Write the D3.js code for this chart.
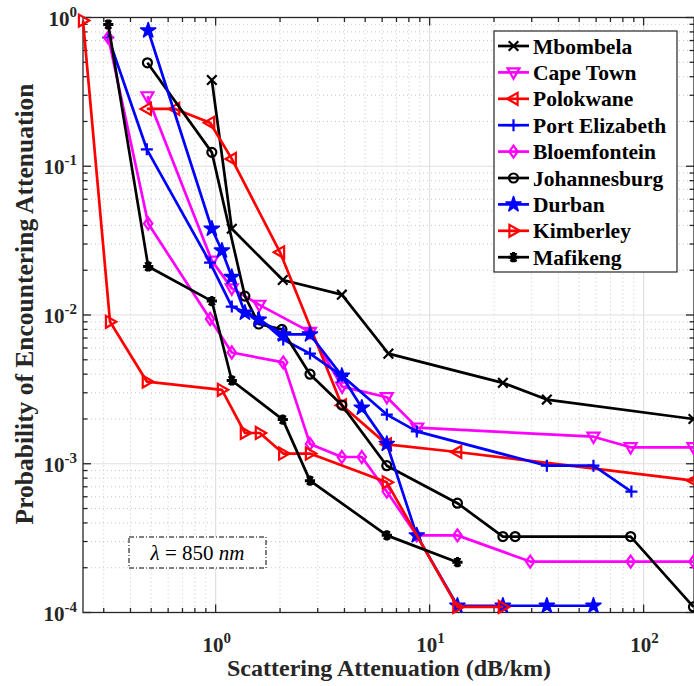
<!DOCTYPE html>
<html>
<head>
<meta charset="utf-8">
<script src="https://cdn.jsdelivr.net/npm/d3@7"></script>
<style>
  html, body { margin: 0; padding: 0; background: #fff; }
  svg { display: block; }
  text { font-family: "Liberation Serif", "Times New Roman", serif; }
</style>
</head>
<body>
<svg id="chart" width="694" height="686"></svg>
<script>
// Scattering attenuation (dB/km) vs probability, one array of [x, p] pairs per city
const mbombela = [[0.96,0.38],[1.19,0.038],[2.06,0.0172],[3.89,0.0137],[6.42,0.0055],[22,0.0035],[35.3,0.0027],[171,0.002]];
const capeTown = [[0.48,0.295],[0.96,0.0232],[1.19,0.0151],[1.6,0.0117],[2.76,0.0077],[3.9,0.0033],[6.31,0.0028],[8.75,0.00175],[58.3,0.00152],[87,0.00129],[171,0.00129]];
const polokwane = [[0.477,0.243],[0.647,0.243],[0.942,0.196],[1.19,0.112],[2.0,0.0264],[3.89,0.00247],[6.31,0.00135],[13.45,0.0012],[171,0.00077]];
const portElizabeth = [[0.315,0.734],[0.477,0.13],[0.942,0.0225],[1.19,0.0114],[1.58,0.0096],[2.07,0.00685],[2.76,0.0055],[3.9,0.0039],[6.31,0.00214],[8.71,0.00165],[35.3,0.00097],[58.3,0.00097],[87.7,0.00065]];
const bloemfontein = [[0.315,0.734],[0.484,0.0412],[0.942,0.0094],[1.19,0.0056],[2.07,0.0048],[2.76,0.00136],[3.89,0.00111],[4.82,0.00111],[6.31,0.00065],[8.71,0.00033],[13.49,0.00033],[29.5,0.00022],[87,0.00022],[171,0.00022]];
const johannesburg = [[0.48,0.496],[0.96,0.124],[1.37,0.0134],[1.59,0.0087],[2.04,0.008],[2.76,0.004],[3.89,0.00248],[6.31,0.00097],[13.49,0.000543],[22,0.000324],[25.1,0.000324],[87,0.000324],[171,0.000109]];
const durban = [[0.484,0.818],[0.96,0.038],[1.07,0.0271],[1.19,0.018],[1.37,0.01035],[1.59,0.0093],[2.07,0.0074],[2.76,0.0074],[3.89,0.0039],[4.82,0.00238],[6.31,0.00136],[8.71,0.00033],[13.49,0.000111],[22,0.000111],[35.3,0.000111],[58.3,0.000111]];
const kimberley = [[0.24,0.954],[0.321,0.009],[0.477,0.00357],[1.07,0.00314],[1.37,0.00161],[1.61,0.00161],[2.07,0.00117],[2.76,0.00117],[6.31,0.00075],[13.49,0.000109],[22,0.000109]];
const mafikeng = [[0.315,0.897],[0.484,0.0212],[0.96,0.0124],[1.19,0.00363],[2.06,0.00198],[2.76,0.00077],[6.31,0.00033],[13.49,0.000218]];

const cityNames = ["Mbombela","Cape Town","Polokwane","Port Elizabeth","Bloemfontein","Johannesburg","Durban","Kimberley","Mafikeng"];
const cityData = [mbombela, capeTown, polokwane, portElizabeth, bloemfontein, johannesburg, durban, kimberley, mafikeng];
const cityColors = ["#000000","#ff00ff","#ff0000","#0000ff","#ff00ff","#000000","#0000ff","#ff0000","#000000"];
const cityMarkers = ["x","tdown","tleft","plus","diamond","circle","star","tright","asterisk"];

const xTickExps = [0, 1, 2];
const yTickExps = [0, -1, -2, -3, -4];
const xLabel = "Scattering Attenuation (dB/km)";
const yLabel = "Probability of Encountering Attenuation";

const svg = d3.select("#chart");
const L = 83, R = 694, T = 17.5, B = 612.5;
const x = d3.scaleLog().domain([0.24, 172]).range([L, R]);
const y = d3.scaleLog().domain([1e-4, 1]).range([B, T]);

// minor/major grid
const xMinor = [], yMinor = [];
for (let e = -1; e <= 2; e++) for (let m = 2; m <= 9; m++) {
  const v = m * Math.pow(10, e);
  if (v > 0.24 && v < 172) xMinor.push(v);
}
for (let e = -4; e <= -1; e++) for (let m = 2; m <= 9; m++) yMinor.push(m * Math.pow(10, e));
const xMajor = xTickExps.map(e => Math.pow(10, e));
const yMajor = yTickExps.map(e => Math.pow(10, e));

const grid = svg.append("g");
grid.selectAll(".xm").data(xMinor).join("line")
  .attr("x1", d => x(d)).attr("x2", d => x(d)).attr("y1", T).attr("y2", B)
  .attr("stroke", "#c8c8c8").attr("stroke-width", 1).attr("stroke-dasharray", "1,3");
grid.selectAll(".ym").data(yMinor).join("line")
  .attr("y1", d => y(d)).attr("y2", d => y(d)).attr("x1", L).attr("x2", R)
  .attr("stroke", "#c8c8c8").attr("stroke-width", 1).attr("stroke-dasharray", "1,3");
grid.selectAll(".xM").data(xMajor).join("line")
  .attr("x1", d => x(d)).attr("x2", d => x(d)).attr("y1", T).attr("y2", B)
  .attr("stroke", "#e0e0e0").attr("stroke-width", 1.2);
grid.selectAll(".yM").data(yMajor).join("line")
  .attr("y1", d => y(d)).attr("y2", d => y(d)).attr("x1", L).attr("x2", R)
  .attr("stroke", "#e0e0e0").attr("stroke-width", 1.2);

// axes box with inward ticks on all four sides
const axisColor = "#262626";
const ax = svg.append("g").attr("stroke", axisColor).attr("stroke-width", 1.3);
ax.append("rect").attr("x", L).attr("y", T).attr("width", R - L).attr("height", B - T).attr("fill", "none");
const majLen = 8, minLen = 4.5;
xMinor.forEach(v => {
  ax.append("line").attr("x1", x(v)).attr("x2", x(v)).attr("y1", B).attr("y2", B - minLen);
  ax.append("line").attr("x1", x(v)).attr("x2", x(v)).attr("y1", T).attr("y2", T + minLen);
});
xMajor.forEach(v => {
  ax.append("line").attr("x1", x(v)).attr("x2", x(v)).attr("y1", B).attr("y2", B - majLen);
  ax.append("line").attr("x1", x(v)).attr("x2", x(v)).attr("y1", T).attr("y2", T + majLen);
});
yMinor.forEach(v => {
  ax.append("line").attr("y1", y(v)).attr("y2", y(v)).attr("x1", L).attr("x2", L + minLen);
  ax.append("line").attr("y1", y(v)).attr("y2", y(v)).attr("x1", R).attr("x2", R - minLen);
});
yMajor.forEach(v => {
  ax.append("line").attr("y1", y(v)).attr("y2", y(v)).attr("x1", L).attr("x2", L + majLen);
  ax.append("line").attr("y1", y(v)).attr("y2", y(v)).attr("x1", R).attr("x2", R - majLen);
});

// tick labels as 10^n
function powLabel(g, px, py, exp, anchor) {
  const t = g.append("text").attr("x", px).attr("y", py).attr("text-anchor", anchor)
    .attr("font-weight", "bold").attr("font-size", 21).attr("fill", "#262626");
  t.append("tspan").text("10");
  t.append("tspan").attr("dy", -9).attr("font-size", 15).text(exp < 0 ? "-" + (-exp) : String(exp));
}
const labels = svg.append("g");
xTickExps.forEach(e => powLabel(labels, x(Math.pow(10, e)) + 1, 652, e, "middle"));
yTickExps.forEach(e => powLabel(labels, 77, y(Math.pow(10, e)) + 8, e, "end"));

labels.append("text").attr("x", 389).attr("y", 676).attr("text-anchor", "middle")
  .attr("font-weight", "bold").attr("font-size", 24).attr("fill", "#262626").text(xLabel);
labels.append("text").attr("transform", "translate(33,304) rotate(-90)").attr("text-anchor", "middle")
  .attr("font-weight", "bold").attr("font-size", 25.5).attr("fill", "#262626").text(yLabel);

// marker drawing
function drawMarker(g, kind, cx, cy, color) {
  const sw = 2.2;
  const s = 6;
  const p = g.append("g").attr("transform", `translate(${cx},${cy})`);
  if (kind === "x") {
    p.append("path").attr("d", `M${-s*0.8},${-s*0.8}L${s*0.8},${s*0.8}M${-s*0.8},${s*0.8}L${s*0.8},${-s*0.8}`)
      .attr("stroke", color).attr("stroke-width", sw).attr("fill", "none");
  } else if (kind === "plus") {
    p.append("path").attr("d", `M${-s},0L${s},0M0,${-s}L0,${s}`)
      .attr("stroke", color).attr("stroke-width", sw).attr("fill", "none");
  } else if (kind === "asterisk") {
    const a = s * 0.85;
    p.append("path").attr("d", `M${-a},0L${a},0M${-a*0.5},${-a*0.87}L${a*0.5},${a*0.87}M${-a*0.5},${a*0.87}L${a*0.5},${-a*0.87}M0,${-a}L0,${a}`)
      .attr("stroke", color).attr("stroke-width", sw + 0.8).attr("fill", "none");
  } else if (kind === "circle") {
    p.append("circle").attr("r", s * 0.75).attr("stroke", color).attr("stroke-width", sw).attr("fill", "none");
  } else if (kind === "diamond") {
    p.append("path").attr("d", `M0,${-s}L${s*0.7},0L0,${s}L${-s*0.7},0Z`)
      .attr("stroke", color).attr("stroke-width", sw).attr("fill", "none");
  } else if (kind === "star") {
    p.append("path").attr("d", d3.symbol(d3.symbolStar, 70)())
      .attr("stroke", color).attr("stroke-width", 1.6).attr("stroke-linejoin", "round").attr("fill", color);
  } else {
    const rot = { tdown: 180, tleft: -90, tright: 90 }[kind];
    const h = s * 1.05;
    p.append("path").attr("d", `M0,${-h}L${h*0.95},${h*0.65}L${-h*0.95},${h*0.65}Z`)
      .attr("transform", `rotate(${rot})`)
      .attr("stroke", color).attr("stroke-width", sw).attr("fill", "none");
  }
}

// series lines and markers
const line = d3.line().x(d => x(d[0])).y(d => y(d[1]));
const plot = svg.append("g");
cityData.forEach((data, i) => {
  const g = plot.append("g");
  g.append("path").datum(data).attr("d", line)
    .attr("fill", "none").attr("stroke", cityColors[i]).attr("stroke-width", 2.7)
    .attr("stroke-linejoin", "round");
  data.forEach(d => drawMarker(g, cityMarkers[i], x(d[0]), y(d[1]), cityColors[i]));
});

// legend
const lg = svg.append("g");
const lgX = 494, lgY = 31, lgW = 183, lgH = 241;
lg.append("rect").attr("x", lgX).attr("y", lgY).attr("width", lgW).attr("height", lgH)
  .attr("fill", "#fff").attr("stroke", axisColor).attr("stroke-width", 1.2);
cityNames.forEach((name, i) => {
  const cy = 46 + i * 26.4;
  lg.append("line").attr("x1", 498).attr("x2", 529).attr("y1", cy).attr("y2", cy)
    .attr("stroke", cityColors[i]).attr("stroke-width", 2.7);
  drawMarker(lg, cityMarkers[i], 513.5, cy, cityColors[i]);
  lg.append("text").attr("x", 533).attr("y", cy + 7.5).attr("font-weight", "bold")
    .attr("font-size", 21.5).attr("fill", "#000").text(name);
});

// wavelength annotation
const ann = svg.append("g");
ann.append("rect").attr("x", 129).attr("y", 537).attr("width", 137).attr("height", 31)
  .attr("fill", "#fff").attr("stroke", "#000").attr("stroke-width", 1)
  .attr("stroke-dasharray", "5,2,1,2");
const at = ann.append("text").attr("x", 197.5).attr("y", 560).attr("text-anchor", "middle")
  .attr("font-size", 21).attr("fill", "#000");
at.append("tspan").attr("font-style", "italic").text("λ");
at.append("tspan").text(" = 850 ");
at.append("tspan").attr("font-style", "italic").text("nm");
</script>
</body>
</html>
